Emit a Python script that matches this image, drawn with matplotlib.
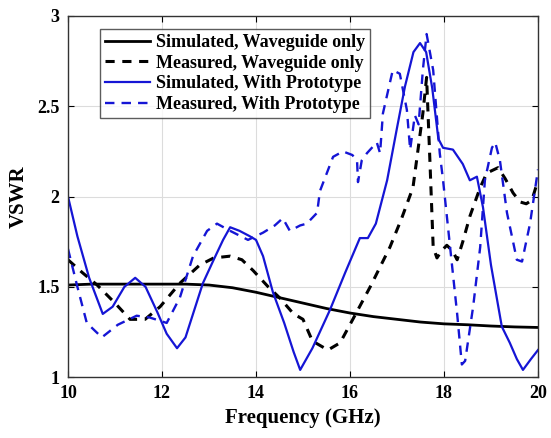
import numpy as np
import matplotlib.pyplot as plt

# 数据
sim_wg_f = [10, 10.5, 11, 11.5, 12, 12.5, 13, 13.5, 14, 14.5, 15, 15.5, 16, 16.5,
            17, 17.5, 18, 18.5, 19, 19.5, 20]
sim_wg_v = [1.51, 1.515, 1.515, 1.515, 1.515, 1.515, 1.51, 1.495, 1.47, 1.44, 1.41,
            1.38, 1.355, 1.335, 1.32, 1.305, 1.295, 1.29, 1.283, 1.278, 1.275]

meas_wg_f = [10, 10.3, 10.62, 11.0, 11.32, 11.64, 11.96, 12.38, 12.8, 13.1, 13.45, 13.7,
             13.94, 14.26, 14.5, 14.8, 15.0, 15.2, 15.53, 15.79, 16.06, 16.43, 16.85,
             17.1, 17.34, 17.55, 17.63, 17.7, 17.77, 17.85, 17.95, 18.06, 18.18, 18.28,
             18.4, 18.55, 18.77, 18.91, 19.15, 19.3, 19.47, 19.62, 19.75, 19.87, 20.0]
meas_wg_v = [1.65, 1.58, 1.51, 1.41, 1.32, 1.32, 1.39, 1.52, 1.62, 1.66, 1.67, 1.65,
             1.59, 1.50, 1.44, 1.35, 1.32, 1.20, 1.15, 1.19, 1.32, 1.50, 1.72,
             1.88, 2.05, 2.46, 2.66, 2.20, 1.72, 1.66, 1.70, 1.73, 1.70, 1.65,
             1.75, 1.89, 2.05, 2.13, 2.16, 2.10, 2.02, 1.97, 1.96, 1.98, 2.09]

sim_pr_f = [10, 10.2, 10.45, 10.74, 10.95, 11.2, 11.43, 11.65, 11.9, 12.1, 12.32, 12.5,
            12.87, 13.1, 13.3, 13.45, 13.65, 13.87, 14.0, 14.15, 14.36, 14.6, 14.8, 14.94,
            15.2, 15.57, 15.9, 16.21, 16.38, 16.55, 16.79, 17.0, 17.17, 17.35, 17.49,
            17.62, 17.75, 17.88, 17.98, 18.19, 18.4, 18.55, 18.7, 18.83, 19.0, 19.23,
            19.4, 19.55, 19.68, 19.85, 20.0]
sim_pr_v = [2.0, 1.78, 1.55, 1.35, 1.39, 1.50, 1.55, 1.50, 1.36, 1.24, 1.16, 1.22,
            1.52, 1.65, 1.76, 1.83, 1.81, 1.78, 1.76, 1.67, 1.47, 1.30, 1.14, 1.04,
            1.16, 1.37, 1.58, 1.77, 1.77, 1.85, 2.09, 2.38, 2.61, 2.80, 2.85,
            2.80, 2.60, 2.32, 2.27, 2.26, 2.18, 2.09, 2.11, 1.94, 1.62, 1.28,
            1.19, 1.10, 1.04, 1.10, 1.15]

meas_pr_f = [10, 10.2, 10.4, 10.72, 11.06, 11.46, 11.74, 12.1, 12.38, 12.66, 12.96, 13.17,
             13.45, 13.83, 14.15, 14.4, 14.57, 14.72, 14.94, 15.08, 15.3, 15.36, 15.64,
             15.85, 16.05, 16.15, 16.17, 16.25, 16.36, 16.57, 16.64, 16.7, 16.91, 17.06,
             17.21, 17.28, 17.38, 17.46, 17.55, 17.63, 17.77, 17.91, 17.98, 18.13, 18.28,
             18.38, 18.45, 18.62, 18.77, 18.87, 19.02, 19.09, 19.19, 19.34, 19.55, 19.66,
             19.83, 20.0]
meas_pr_v = [1.71, 1.50, 1.30, 1.22, 1.29, 1.34, 1.33, 1.30, 1.44, 1.67, 1.81, 1.85,
             1.81, 1.76, 1.80, 1.84, 1.88, 1.81, 1.84, 1.85, 1.91, 2.03, 2.22,
             2.25, 2.23, 2.20, 2.08, 2.20, 2.24, 2.30, 2.24, 2.46, 2.70, 2.68,
             2.48, 2.26, 2.45, 2.40, 2.70, 2.90, 2.70, 2.24, 2.09, 1.72, 1.35,
             1.07, 1.09, 1.39, 1.72, 2.09, 2.27, 2.30, 2.20, 1.91, 1.65, 1.64,
             1.85, 2.15]

labels = ["Simulated, Waveguide only", "Measured, Waveguide only",
          "Simulated, With Prototype", "Measured, With Prototype"]

font = {'family': 'Liberation Serif', 'weight': 'bold'}
blue = "#1515d5"

fig = plt.figure(figsize=(5.51, 4.38), dpi=100)
ax = fig.add_axes([0.1234, 0.139, 0.853, 0.8245])

ax.plot(sim_wg_f, sim_wg_v, color="k", linewidth=2.0, label=labels[0])
ax.plot(meas_wg_f, meas_wg_v, color="k", linewidth=2.2, linestyle=(0, (3, 2.5)), label=labels[1])
ax.plot(sim_pr_f, sim_pr_v, color=blue, linewidth=1.6, label=labels[2])
ax.plot(meas_pr_f, meas_pr_v, color=blue, linewidth=1.7, linestyle=(0, (4, 3)), label=labels[3])

ax.set_xlim(10, 20)
ax.set_ylim(1, 3)
ax.set_xticks([10, 12, 14, 16, 18, 20])
ax.set_yticks([1, 1.5, 2, 2.5, 3])
ax.set_yticklabels(["1", "1.5", "2", "2.5", "3"])
ax.grid(True, color="#dcdcdc", linewidth=0.8)
ax.set_axisbelow(True)
ax.tick_params(direction="in", top=True, right=True, length=4, width=0.8, labelsize=13, pad=6)
for lab in ax.get_xticklabels() + ax.get_yticklabels():
    lab.set_fontfamily(font['family'])
    lab.set_fontweight('bold')
for sp in ax.spines.values():
    sp.set_color("#333333")
    sp.set_linewidth(1.0)

ax.set_xlabel("Frequency (GHz)", fontsize=15, fontfamily=font['family'], fontweight='bold', labelpad=4)
ax.set_ylabel("VSWR", fontsize=15, fontfamily=font['family'], fontweight='bold', labelpad=6)

leg = ax.legend(loc="upper left", bbox_to_anchor=(0.06, 0.975), frameon=True, fancybox=False,
                prop={'family': font['family'], 'weight': 'bold', 'size': 13},
                handlelength=2.5, handletextpad=0.3, labelspacing=0.2, borderpad=0.3,
                borderaxespad=0.2)
leg.get_frame().set_edgecolor("#333333")
leg.get_frame().set_linewidth(1.0)

plt.savefig("out.png", dpi=100)
